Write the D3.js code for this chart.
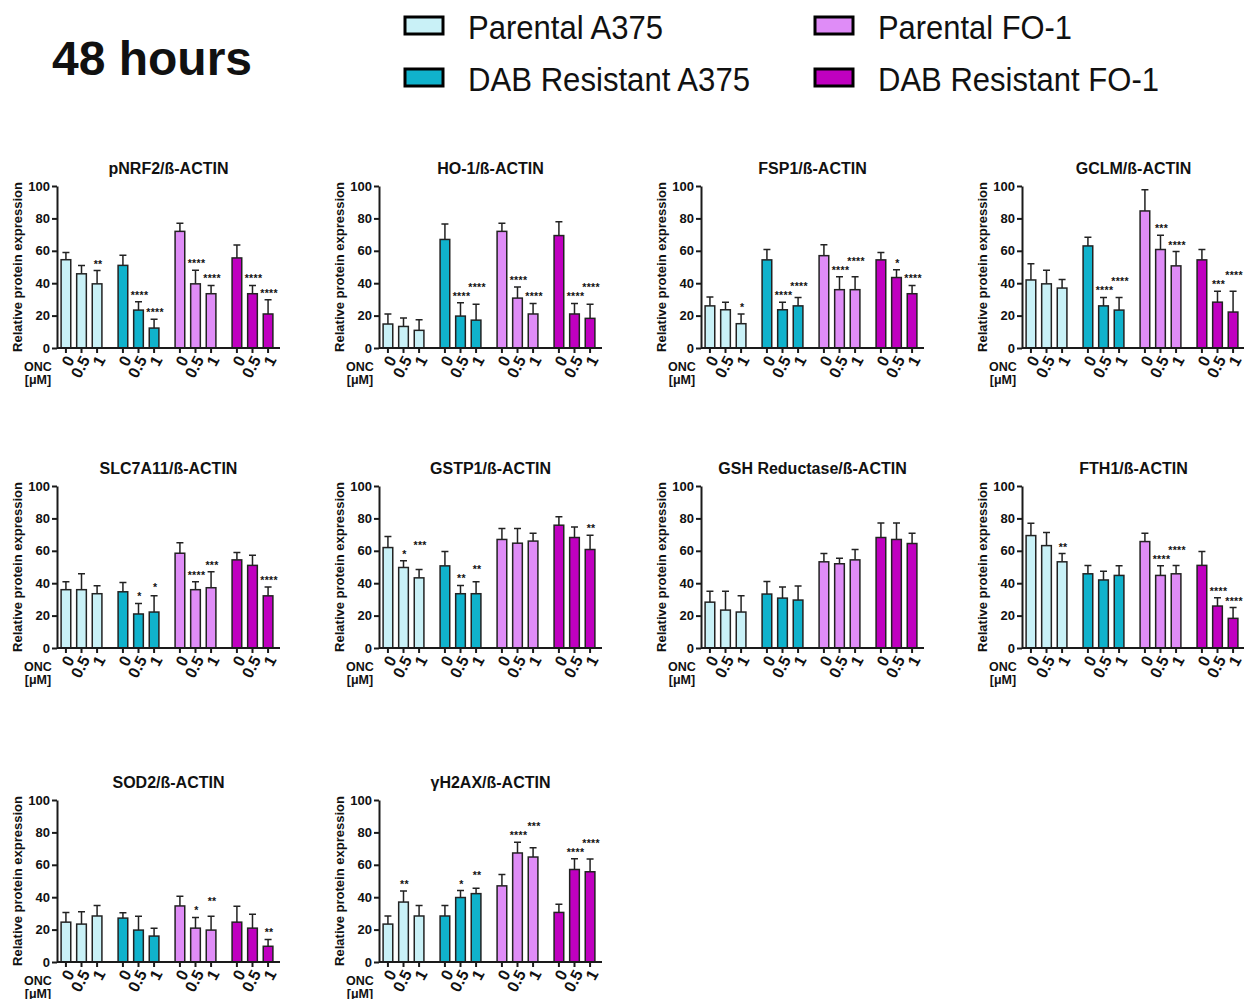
<!DOCTYPE html>
<html lang="en">

<head>
    <meta charset="UTF-8">
    <title>48 hours</title>
    <script src="https://d3js.org/d3.v7.min.js"></script>
    <style>
        body {
            margin: 0;
            background: #fff;
        }

        svg text {
            font-family: "Liberation Sans", Arial, sans-serif;
            fill: #111;
        }

        .bold {
            font-weight: bold;
        }

        .axis path,
        .axis line {
            stroke: #1a1a1a;
            stroke-width: 2px;
        }
    </style>
</head>

<body>
    <script>

        // groups / doses
        const groups = ["Parental A375", "DAB Resistant A375", "Parental FO-1", "DAB Resistant FO-1"];
        const groupColors = ["#c9f1f7", "#10b2cc", "#df8cf7", "#c000c0"];
        const doses = ["0", "0.5", "1"];
        const yTicks = [0, 20, 40, 60, 80, 100];

        const titles = ["pNRF2/ß-ACTIN", "HO-1/ß-ACTIN", "FSP1/ß-ACTIN", "GCLM/ß-ACTIN",
            "SLC7A11/ß-ACTIN", "GSTP1/ß-ACTIN", "GSH Reductase/ß-ACTIN", "FTH1/ß-ACTIN",
            "SOD2/ß-ACTIN", "γH2AX/ß-ACTIN"];

        // mean values, order: PA 0/0.5/1, DA 0/0.5/1, PF 0/0.5/1, DF 0/0.5/1
        const means = [
            [54.5, 45.8, 39.6, 51, 23.4, 12.3, 72, 39.6, 33.5, 55.6, 33.5, 21],
            [14.8, 13.3, 10.9, 67, 19.7, 17.2, 72, 30.8, 21, 69.4, 21, 18.3],
            [26, 23.6, 15, 54.4, 23.6, 26, 57, 36, 36, 54.4, 43.5, 33.5],
            [42, 39.6, 37, 63, 26, 23.4, 84.6, 60.8, 50.7, 54.4, 28.3, 22.2],
            [36, 36, 33.5, 34.7, 21, 22.2, 58.5, 36, 37.2, 54.4, 51, 32.2],
            [62, 49.7, 43.3, 50.7, 33.5, 33.5, 67, 64.7, 66, 75.8, 68.2, 60.8],
            [28.3, 23.4, 22.2, 33.3, 30.8, 29.6, 53.2, 52, 54.4, 68.2, 67, 64.5],
            [69.4, 63.2, 53.2, 45.8, 42, 44.8, 65.7, 44.8, 45.8, 51, 25.9, 18.3],
            [24.6, 23.4, 28.4, 27.1, 19.7, 16, 34.6, 20.9, 19.7, 24.6, 20.9, 9.7],
            [23.4, 37, 28.4, 28.4, 39.8, 42.2, 47, 67.3, 64.8, 30.6, 57.1, 55.7]
        ];

        // error (upper only)
        const errs = [
            [4.5, 5.2, 8.2, 6.3, 5.1, 5.4, 5, 8.4, 5.1, 8, 5.1, 8.8],
            [6.2, 5.2, 6.6, 9.6, 8.3, 9.8, 5, 6.8, 6.5, 8.6, 6.5, 8.7],
            [5.5, 4.7, 6, 6.4, 4.7, 5.2, 6.7, 8, 8, 4.6, 4.8, 5.1],
            [10, 8.4, 5.3, 5.4, 5.2, 7.8, 13.1, 8.8, 8.8, 6.4, 6.7, 12.8],
            [4.9, 9.8, 4.9, 5.8, 6.5, 10, 6.5, 4.9, 9.8, 4.6, 6.3, 5.4],
            [6.8, 4.1, 5.2, 8.8, 5.1, 7.4, 6.7, 9, 4.8, 5.2, 6.5, 8.8],
            [6.7, 11.6, 10, 7.7, 6.8, 8.6, 5.1, 3.4, 6.4, 9, 10.2, 6.3],
            [7.6, 8.1, 5.1, 5.2, 5.4, 5.9, 5.1, 5.9, 5.2, 8.5, 5.1, 6.7],
            [6, 7.6, 6.4, 3.3, 8.5, 4.9, 6, 6.6, 8.5, 9.8, 8.5, 4.2],
            [5, 6.8, 6.4, 6.4, 4.3, 3.3, 7, 6.6, 5.8, 5, 6.7, 7.9]
        ];

        // significance marks
        const stars = [
            ["", "", "**", "", "****", "****", "", "****", "****", "", "****", "****"],
            ["", "", "", "", "****", "****", "", "****", "****", "", "****", "****"],
            ["", "", "*", "", "****", "****", "", "****", "****", "", "*", "****"],
            ["", "", "", "", "****", "****", "", "***", "****", "", "***", "****"],
            ["", "", "", "", "*", "*", "", "****", "***", "", "", "****"],
            ["", "*", "***", "", "**", "**", "", "", "", "", "", "**"],
            ["", "", "", "", "", "", "", "", "", "", "", ""],
            ["", "", "**", "", "", "", "", "****", "****", "", "****", "****"],
            ["", "", "", "", "", "", "", "*", "**", "", "", "**"],
            ["", "**", "", "", "*", "**", "", "****", "***", "", "****", "****"]
        ];

        const svg = d3.select("body").append("svg")
            .attr("width", 1244)
            .attr("height", 999);

        // header
        svg.append("text")
            .attr("class", "bold")
            .attr("x", 52).attr("y", 75)
            .style("font-size", "48px")
            .text("48 hours");

        // legend
        const legendX = [405, 815];
        const legendY = [17, 69];
        const legendW = [195, 282, 194, 281];
        const legend = svg.selectAll(".legend")
            .data(groups)
            .enter().append("g")
            .attr("class", "legend")
            .attr("transform", (d, i) => "translate(" + legendX[Math.floor(i / 2)] + "," + legendY[i % 2] + ")");

        legend.append("rect")
            .attr("width", 38).attr("height", 17)
            .attr("fill", (d, i) => groupColors[i])
            .attr("stroke", "#000")
            .attr("stroke-width", 3);

        legend.append("text")
            .attr("x", 63).attr("y", 22)
            .attr("textLength", (d, i) => legendW[i])
            .attr("lengthAdjust", "spacingAndGlyphs")
            .style("font-size", "34px")
            .text(d => d);

        // panel geometry
        const axisLen = 223, plotH = 162;
        const colX = [57, 379, 701, 1022];
        const rowY = [186, 486, 800];

        const y = d3.scaleLinear().domain([0, 100]).range([plotH, 0]);
        const x0 = d3.scaleBand().domain(groups).range([0, 220]).paddingInner(0.18).paddingOuter(0.02);
        const x1 = d3.scaleBand().domain(doses).range([0, x0.bandwidth()]).paddingInner(0.38).paddingOuter(0.19);

        titles.forEach((title, p) => {
            const g = svg.append("g")
                .attr("transform", "translate(" + colX[p % 4] + "," + rowY[Math.floor(p / 4)] + ")");

            const rows = means[p].map((m, i) => ({
                group: groups[Math.floor(i / 3)],
                gi: Math.floor(i / 3),
                dose: doses[i % 3],
                mean: m,
                top: m + errs[p][i],
                star: stars[p][i]
            }));
            const cx = d => x0(d.group) + x1(d.dose) + x1.bandwidth() / 2;

            // star baseline: above the cap; lift the "1" mark if it would collide with its neighbour
            rows.forEach(d => { d.sy = y(d.top) - 3; });
            rows.forEach((d, i) => {
                const prev = rows[i - 1];
                if (d.dose === "1" && d.star && prev.star && Math.abs(d.sy - prev.sy) < 9) {
                    d.sy = prev.sy - 9;
                }
            });

            // title
            g.append("text")
                .attr("class", "bold")
                .attr("x", axisLen / 2).attr("y", -12)
                .attr("text-anchor", "middle")
                .style("font-size", "16px")
                .text(title);

            // y label
            g.append("text")
                .attr("class", "bold")
                .attr("transform", "translate(-35," + plotH / 2 + ") rotate(-90)")
                .attr("text-anchor", "middle")
                .style("font-size", "13px")
                .text("Relative protein expression");

            // error bars
            g.selectAll(".err")
                .data(rows)
                .enter().append("path")
                .attr("fill", "none")
                .attr("stroke", "#222")
                .attr("stroke-width", 1.5)
                .attr("d", d => "M" + cx(d) + "," + y(d.mean) + "V" + y(d.top)
                    + "M" + (cx(d) - 3.5) + "," + y(d.top) + "H" + (cx(d) + 3.5));

            // bars
            g.selectAll(".bar")
                .data(rows)
                .enter().append("rect")
                .attr("x", d => x0(d.group) + x1(d.dose))
                .attr("width", x1.bandwidth())
                .attr("y", d => y(d.mean))
                .attr("height", d => plotH - y(d.mean))
                .attr("fill", d => groupColors[d.gi])
                .attr("stroke", "#222")
                .attr("stroke-width", 1.5);

            // stars
            g.selectAll(".star")
                .data(rows.filter(d => d.star))
                .enter().append("text")
                .attr("class", "bold")
                .attr("x", d => cx(d) + 1)
                .attr("y", d => d.sy)
                .attr("text-anchor", "middle")
                .style("font-size", "10.5px")
                .style("letter-spacing", "0.3px")
                .text(d => d.star);

            // y axis
            const ya = g.append("g")
                .attr("class", "axis")
                .call(d3.axisLeft(y).tickValues(yTicks).tickSize(5).tickSizeOuter(0));
            ya.selectAll("text")
                .attr("class", "bold")
                .attr("x", -7)
                .style("font-size", "13px");

            // x axis line + ticks
            const xa = g.append("g").attr("class", "axis")
                .attr("transform", "translate(0," + plotH + ")");
            xa.append("path").attr("d", "M0,0H" + axisLen);
            xa.selectAll(".tick")
                .data(rows)
                .enter().append("line")
                .attr("x1", cx).attr("x2", cx)
                .attr("y1", 0).attr("y2", 5);
            xa.selectAll(".xl")
                .data(rows)
                .enter().append("text")
                .attr("class", "bold")
                .attr("transform", d => "translate(" + (cx(d) + 4) + ",9) rotate(-62)")
                .attr("text-anchor", "end")
                .attr("dy", "0.35em")
                .style("font-size", "16px")
                .text(d => d.dose);

            // ONC label
            g.append("text")
                .attr("class", "bold")
                .attr("x", -19).attr("y", plotH + 23)
                .attr("text-anchor", "middle")
                .style("font-size", "12.5px")
                .text("ONC");
            g.append("text")
                .attr("class", "bold")
                .attr("x", -19).attr("y", plotH + 36)
                .attr("text-anchor", "middle")
                .style("font-size", "12.5px")
                .text("[μM]");
        });

    </script>

</body>

</html>
